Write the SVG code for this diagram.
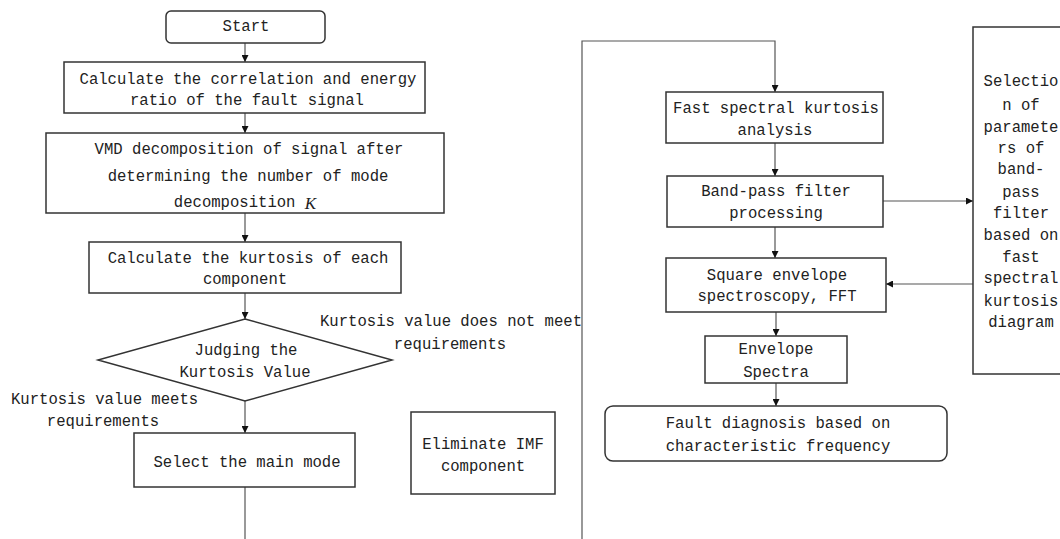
<svg xmlns="http://www.w3.org/2000/svg" width="1060" height="539" viewBox="0 0 1060 539">
<style>
.box{fill:#fff;stroke:#333;stroke-width:1.5}
.t{font-family:"Liberation Mono",monospace;font-size:15.6px;fill:#222;text-anchor:middle;dominant-baseline:central}
.tl{font-family:"Liberation Mono",monospace;font-size:15.6px;fill:#222;dominant-baseline:central}
.c{fill:none;stroke:#555;stroke-width:1.2}
</style>
<defs>
<marker id="ah" viewBox="0 0 10 10" refX="10" refY="5" markerWidth="7" markerHeight="7" markerUnits="userSpaceOnUse" orient="auto">
<path d="M0,0 L10,5 L0,10 z" fill="#111"/>
</marker>
</defs>
<rect width="1060" height="539" fill="#fff"/>
<g id="connectors">
<line class="c" x1="245" y1="43" x2="245" y2="62" marker-end="url(#ah)"/>
<line class="c" x1="245" y1="113" x2="245" y2="133" marker-end="url(#ah)"/>
<line class="c" x1="245" y1="213" x2="245" y2="242" marker-end="url(#ah)"/>
<line class="c" x1="245" y1="293" x2="245" y2="319" marker-end="url(#ah)"/>
<line class="c" x1="245" y1="401" x2="245" y2="433" marker-end="url(#ah)"/>
<line class="c" x1="245" y1="487" x2="245" y2="539"/>
<polyline class="c" points="582,539 582,41 775,41 775,92" marker-end="url(#ah)"/>
<line class="c" x1="775" y1="143" x2="775" y2="176" marker-end="url(#ah)"/>
<line class="c" x1="775" y1="227" x2="775" y2="258" marker-end="url(#ah)"/>
<line class="c" x1="776" y1="312" x2="776" y2="336" marker-end="url(#ah)"/>
<line class="c" x1="776" y1="383" x2="776" y2="406" marker-end="url(#ah)"/>
<line class="c" x1="883" y1="201" x2="973" y2="201" marker-end="url(#ah)"/>
<line class="c" x1="973" y1="284" x2="886" y2="284" marker-end="url(#ah)"/>
</g>
<g id="start">
<rect class="box" x="166" y="11" width="159" height="32" rx="5"/>
<text class="t" x="246" y="27">Start</text>
</g>
<g id="calc-correlation">
<rect class="box" x="64" y="62" width="361" height="51"/>
<text class="t" x="248" y="80">Calculate the correlation and energy</text>
<text class="t" x="247" y="101">ratio of the fault signal</text>
</g>
<g id="vmd">
<rect class="box" x="46" y="133" width="398" height="80"/>
<text class="t" x="249" y="150">VMD decomposition of signal after</text>
<text class="t" x="248" y="177">determining the number of mode</text>
<text class="t" x="245" y="203">decomposition <tspan font-family="Liberation Serif,serif" font-style="italic" font-size="17">K</tspan></text>
</g>
<g id="calc-kurtosis">
<rect class="box" x="89" y="242" width="312" height="51"/>
<text class="t" x="248" y="259">Calculate the kurtosis of each</text>
<text class="t" x="245" y="280">component</text>
</g>
<g id="judge">
<polygon class="box" points="245,319 392,360 245,401 98,360"/>
<text class="t" x="246" y="351">Judging the</text>
<text class="t" x="245" y="373">Kurtosis Value</text>
</g>
<g id="labels">
<text class="tl" x="320" y="322">Kurtosis value does not meet</text>
<text class="t" x="450" y="345">requirements</text>
<text class="tl" x="11" y="400">Kurtosis value meets</text>
<text class="t" x="103" y="422">requirements</text>
</g>
<g id="select-main">
<rect class="box" x="134" y="433" width="221" height="54"/>
<text class="t" x="247" y="463">Select the main mode</text>
</g>
<g id="eliminate">
<rect class="box" x="411" y="412" width="144" height="82"/>
<text class="t" x="483" y="445">Eliminate IMF</text>
<text class="t" x="483" y="467">component</text>
</g>
<g id="fast-sk">
<rect class="box" x="666" y="92" width="217" height="51"/>
<text class="t" x="776" y="109">Fast spectral kurtosis</text>
<text class="t" x="775" y="131">analysis</text>
</g>
<g id="bandpass">
<rect class="box" x="667" y="176" width="216" height="51"/>
<text class="t" x="776" y="192">Band-pass filter</text>
<text class="t" x="776" y="214">processing</text>
</g>
<g id="square-env">
<rect class="box" x="666" y="258" width="220" height="54"/>
<text class="t" x="777" y="276">Square envelope</text>
<text class="t" x="777" y="297">spectroscopy, FFT</text>
</g>
<g id="env-spectra">
<rect class="box" x="705" y="336" width="142" height="47"/>
<text class="t" x="776" y="350">Envelope</text>
<text class="t" x="776" y="373">Spectra</text>
</g>
<g id="fault-diagnosis">
<rect class="box" x="605" y="406" width="342" height="55" rx="8"/>
<text class="t" x="778" y="424">Fault diagnosis based on</text>
<text class="t" x="778" y="447">characteristic frequency</text>
</g>
<g id="param-selection">
<rect class="box" x="973" y="27" width="97" height="347"/>
<text class="t" x="1021" y="82">Selectio</text>
<text class="t" x="1021" y="106">n of</text>
<text class="t" x="1021" y="128">paramete</text>
<text class="t" x="1021" y="149">rs of</text>
<text class="t" x="1021" y="170">band-</text>
<text class="t" x="1021" y="193">pass</text>
<text class="t" x="1021" y="214">filter</text>
<text class="t" x="1021" y="236">based on</text>
<text class="t" x="1021" y="258">fast</text>
<text class="t" x="1021" y="279">spectral</text>
<text class="t" x="1021" y="302">kurtosis</text>
<text class="t" x="1021" y="323">diagram</text>
</g>
</svg>
